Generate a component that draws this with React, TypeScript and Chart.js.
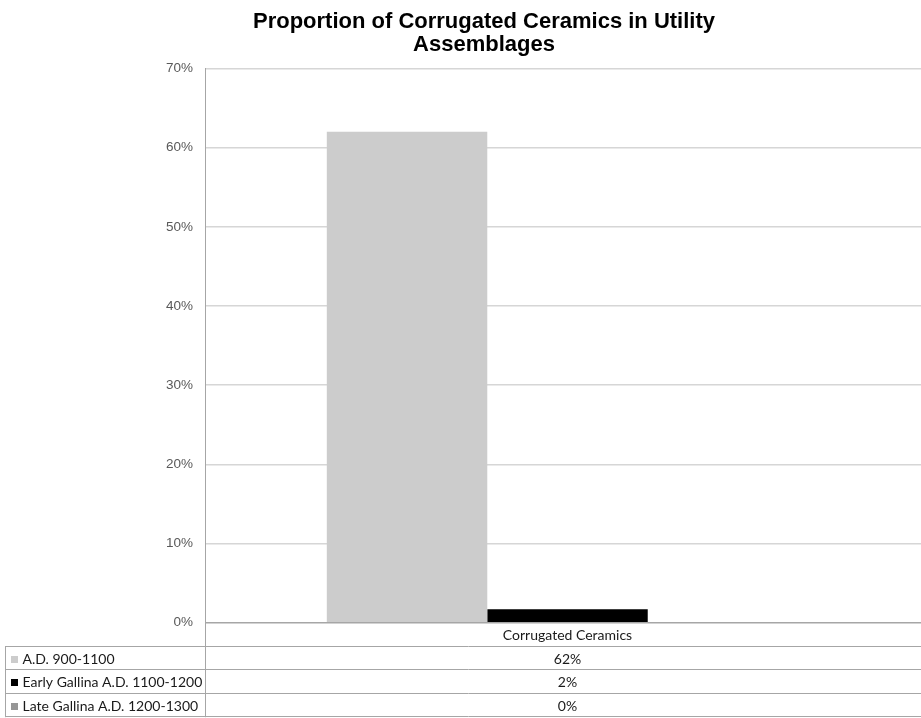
import React, { useEffect, useRef } from "react";
import { Chart, registerables } from "chart.js";

Chart.register(...registerables);

// Chart content
const titleLines = ["Proportion of Corrugated Ceramics in Utility", "Assemblages"];
const categories = ["Corrugated Ceramics"];
const seriesNames = ["A.D. 900-1100", "Early Gallina A.D. 1100-1200", "Late Gallina A.D. 1200-1300"];
const seriesValues = [[62], [1.7], [0]];
const seriesColors = ["#cccccc", "#000000", "#969696"];
const yMin = 0;
const yMax = 70;
const yStep = 10;

const fmtPct = (v: number) => `${Math.round(v)}%`;

const TITLE_FONT = "bold 22px 'Liberation Sans', Arial, sans-serif";
const TABLE_FONT = "14px Lato, 'Open Sans', sans-serif";
const LINE_COLOR = "#a6a6a6";

// Draws the title and the data table (legend keys + values) under the plot.
const tablePlugin = {
  id: "titleAndTable",
  afterDraw(chart: any) {
    const { ctx, chartArea } = chart;
    const xScale = chart.scales.x;
    const left = 5;
    const axisX = chartArea.left;
    const right = chart.width;
    const catTop = chartArea.bottom;
    const rowTop = 647;
    const rowH = 23.4;

    ctx.save();

    // title
    ctx.fillStyle = "#000";
    ctx.font = TITLE_FONT;
    ctx.textAlign = "center";
    ctx.textBaseline = "alphabetic";
    const titleX = 484;
    titleLines.forEach((line, i) => ctx.fillText(line, titleX, 28 + i * 22.5));

    // table grid lines
    ctx.strokeStyle = LINE_COLOR;
    ctx.lineWidth = 1;
    ctx.beginPath();
    for (let r = 0; r <= seriesNames.length; r++) {
      const y = Math.round(rowTop + r * rowH) - 0.5;
      ctx.moveTo(left, y);
      ctx.lineTo(right, y);
    }
    ctx.moveTo(left + 0.5, rowTop);
    ctx.lineTo(left + 0.5, rowTop + seriesNames.length * rowH);
    ctx.moveTo(Math.round(axisX) + 0.5, chartArea.top);
    ctx.lineTo(Math.round(axisX) + 0.5, rowTop + seriesNames.length * rowH);
    ctx.stroke();

    // category labels
    ctx.font = TABLE_FONT;
    ctx.fillStyle = "#1a1a1a";
    ctx.textBaseline = "middle";
    ctx.textAlign = "center";
    categories.forEach((c, ci) => {
      const cx = xScale.getPixelForValue(ci);
      ctx.fillText(c, cx, (catTop + rowTop) / 2 + 1);
    });

    // legend rows and values
    seriesNames.forEach((name, si) => {
      const cy = rowTop + si * rowH + rowH / 2 + 0.5;
      ctx.fillStyle = seriesColors[si];
      ctx.fillRect(11, Math.round(cy - 3.5), 7, 7);
      ctx.fillStyle = "#1a1a1a";
      ctx.textAlign = "left";
      ctx.fillText(name, 22.5, cy);
      ctx.textAlign = "center";
      categories.forEach((_, ci) => {
        const cx = xScale.getPixelForValue(ci);
        ctx.fillText(fmtPct(seriesValues[si][ci]), cx, cy);
      });
    });

    ctx.restore();
  },
};

export default function App() {
  const canvasRef = useRef<HTMLCanvasElement | null>(null);

  useEffect(() => {
    if (!canvasRef.current) return;
    const chart = new Chart(canvasRef.current, {
      type: "bar",
      data: {
        labels: categories,
        datasets: seriesNames.map((name, i) => ({
          label: name,
          data: seriesValues[i],
          backgroundColor: seriesColors[i],
          borderWidth: 0,
          categoryPercentage: 0.664,
          barPercentage: 1,
        })),
      },
      options: {
        responsive: false,
        animation: false,
        devicePixelRatio: 1,
        layout: { padding: { top: 68.5, bottom: 95.3, left: 0, right: 2 } },
        plugins: {
          legend: { display: false },
          title: { display: false },
          tooltip: { enabled: false },
        },
        scales: {
          x: { display: false },
          y: {
            min: yMin,
            max: yMax,
            afterFit: (scale: any) => {
              scale.width = 205;
            },
            ticks: {
              stepSize: yStep,
              padding: 12,
              color: "#595959",
              font: { family: "'Liberation Sans', Arial, sans-serif", size: 13.5 },
              callback: (v: any) => `${v}%`,
            },
            grid: {
              drawTicks: false,
              lineWidth: 1.5,
              color: (ctx: any) => (ctx.tick && ctx.tick.value === 0 ? LINE_COLOR : "#d6d6d6"),
            },
            border: { display: true, color: LINE_COLOR, width: 1 },
          },
        },
      },
      plugins: [tablePlugin],
    });
    return () => chart.destroy();
  }, []);

  return (
    <div
      style={{
        position: "absolute",
        left: 0,
        top: 0,
        width: 921,
        height: 718,
        overflow: "hidden",
        background: "#fff",
      }}
    >
      <canvas ref={canvasRef} width={932} height={718} style={{ width: 932, height: 718, display: "block" }} />
    </div>
  );
}
